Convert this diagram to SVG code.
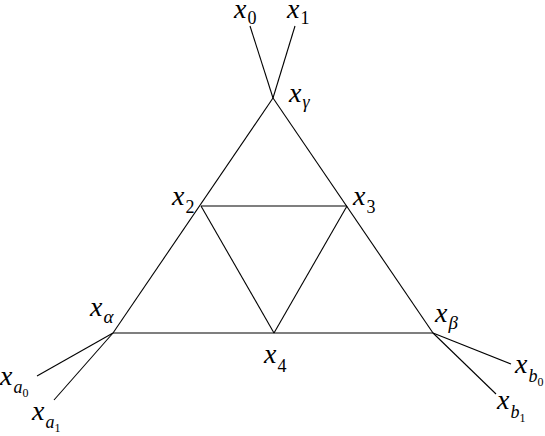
<svg xmlns="http://www.w3.org/2000/svg" width="545" height="436" viewBox="0 0 545 436">
<style>
.e{stroke:#000;stroke-width:1.1;fill:none}
</style>
<rect width="545" height="436" fill="#fff"/>
<g id="connectors">
<line class="e" x1="273" y1="98" x2="113" y2="333"/>
<line class="e" x1="273" y1="98" x2="433" y2="333"/>
<line class="e" x1="113" y1="333" x2="433" y2="333"/>
<line class="e" x1="201" y1="206" x2="347" y2="206"/>
<line class="e" x1="201" y1="206" x2="274" y2="333"/>
<line class="e" x1="347" y1="206" x2="274" y2="333"/>
<line class="e" x1="273" y1="98" x2="250" y2="26"/>
<line class="e" x1="273" y1="98" x2="295" y2="26"/>
<line class="e" x1="113" y1="333" x2="37" y2="376"/>
<line class="e" x1="113" y1="333" x2="54" y2="400"/>
<line class="e" x1="433" y1="333" x2="511" y2="364"/>
<line class="e" x1="433" y1="333" x2="496" y2="394"/>
</g>
<g id="labels" font-family="Liberation Serif, Times New Roman, serif" font-size="28" font-style="italic" fill="#000">
<g id="x0"><text x="234" y="18">x<tspan font-size="18" font-style="normal" dx="1" dy="6">0</tspan></text></g>
<g id="x1"><text x="287" y="18">x<tspan font-size="18" font-style="normal" dx="1" dy="6">1</tspan></text></g>
<g id="xgamma"><text x="289" y="102">x<tspan font-size="18" dx="1" dy="6">γ</tspan></text></g>
<g id="x2"><text x="172" y="205">x<tspan font-size="18" font-style="normal" dx="1" dy="8">2</tspan></text></g>
<g id="x3"><text x="353" y="205">x<tspan font-size="18" font-style="normal" dx="1" dy="8">3</tspan></text></g>
<g id="x4"><text x="264" y="363">x<tspan font-size="18" font-style="normal" dx="1" dy="9">4</tspan></text></g>
<g id="xalpha"><text x="90" y="316">x<tspan font-size="19" dx="1" dy="7">α</tspan></text></g>
<g id="xbeta"><text x="435" y="322">x<tspan font-size="19" dx="1" dy="7">β</tspan></text></g>
<g id="xa0"><text x="0" y="385">x<tspan font-size="18" dx="1" dy="8">a</tspan><tspan font-size="12" font-style="normal" dy="4">0</tspan></text></g>
<g id="xa1"><text x="32" y="420">x<tspan font-size="18" dx="1" dy="8">a</tspan><tspan font-size="12" font-style="normal" dy="4">1</tspan></text></g>
<g id="xb0"><text x="515" y="373">x<tspan font-size="18" dx="1" dy="9">b</tspan><tspan font-size="12" font-style="normal" dy="4">0</tspan></text></g>
<g id="xb1"><text x="497" y="409">x<tspan font-size="18" dx="1" dy="9">b</tspan><tspan font-size="12" font-style="normal" dy="4">1</tspan></text></g>
</g>
</svg>
